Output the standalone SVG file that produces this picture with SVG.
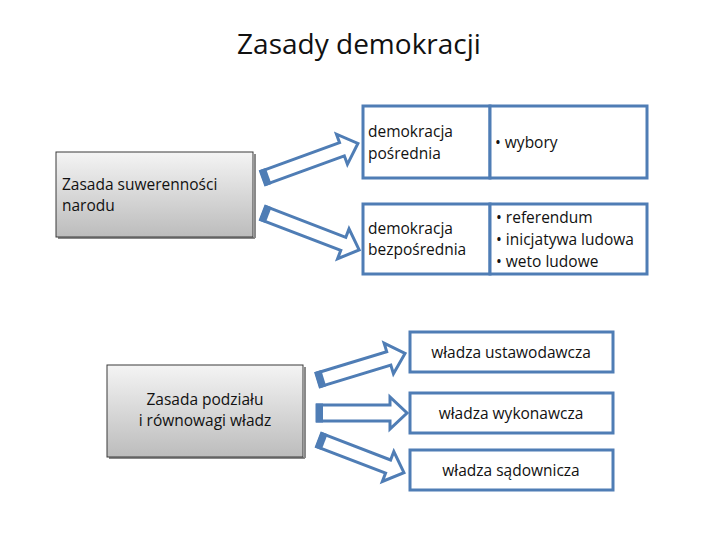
<svg xmlns="http://www.w3.org/2000/svg" width="720" height="540" viewBox="0 0 720 540">
<defs>
<linearGradient id="g" x1="0" y1="0" x2="0" y2="1">
<stop offset="0" stop-color="#f4f4f4"/>
<stop offset="1" stop-color="#bcbcbc"/>
</linearGradient>
</defs>
<style>
text{font-family:"Open Sans","Liberation Sans",sans-serif;fill:#111;}
.t{font-size:15.5px;}
.box{fill:#fff;stroke:#4f7db5;stroke-width:3;}
.gbox{fill:url(#g);stroke:#3a3a3a;stroke-width:1;}
.sh{fill:none;stroke:#8a8a8a;stroke-width:2;}
.ar{fill:#fff;stroke:#4f7db5;stroke-width:3;stroke-linejoin:miter;}
.tail{fill:#4f7db5;}
</style>
<rect width="720" height="540" fill="#fff"/>
<text x="359" y="54" text-anchor="middle" style="font-size:28px">Zasady demokracji</text>

<g id="connectors">
<g transform="translate(263,178) rotate(-20)">
<path class="ar" d="M0,-7 L84,-7 L84,-16 L101,0 L84,16 L84,7 L0,7 Z"/>
<rect class="tail" x="-1" y="-8.5" width="7" height="17"/>
</g>
<g transform="translate(263,213) rotate(21)">
<path class="ar" d="M0,-7 L86,-7 L86,-16 L103,0 L86,16 L86,7 L0,7 Z"/>
<rect class="tail" x="-1" y="-8.5" width="7" height="17"/>
</g>
<g transform="translate(318,380) rotate(-17)">
<path class="ar" d="M0,-7 L74,-7 L74,-16 L91,0 L74,16 L74,7 L0,7 Z"/>
<rect class="tail" x="-1" y="-8.5" width="7" height="17"/>
</g>
<g transform="translate(317,413)">
<path class="ar" d="M0,-8 L73,-8 L73,-16 L90,0 L73,16 L73,8 L0,8 Z"/>
<rect class="tail" x="-1" y="-9.5" width="7" height="19"/>
</g>
<g transform="translate(319,440) rotate(21)">
<path class="ar" d="M0,-7 L74,-7 L74,-16 L91,0 L74,16 L74,7 L0,7 Z"/>
<rect class="tail" x="-1" y="-8.5" width="7" height="17"/>
</g>
</g>

<g id="n-suw">
<line class="sh" x1="58" y1="238" x2="255" y2="238"/>
<line class="sh" x1="255" y1="154" x2="255" y2="238"/>
<rect class="gbox" x="56" y="152" width="197" height="85"/>
<text class="t" x="62" y="190">Zasada suwerenności</text>
<text class="t" x="62" y="211">narodu</text>
</g>

<g id="n-posr">
<rect class="box" x="363" y="106" width="127" height="72"/>
<text class="t" x="368" y="137">demokracja</text>
<text class="t" x="368" y="159">pośrednia</text>
</g>
<g id="n-wyb">
<rect class="box" x="490" y="106" width="157" height="72"/>
<text class="t" x="495" y="148">• wybory</text>
</g>
<g id="n-bezp">
<rect class="box" x="363" y="204" width="127" height="70"/>
<text class="t" x="368" y="234">demokracja</text>
<text class="t" x="368" y="255">bezpośrednia</text>
</g>
<g id="n-ref">
<rect class="box" x="490" y="204" width="157" height="70"/>
<text class="t" x="496" y="223">• referendum</text>
<text class="t" x="496" y="245">• inicjatywa ludowa</text>
<text class="t" x="496" y="267">• weto ludowe</text>
</g>

<g id="n-podz">
<line class="sh" x1="109" y1="458" x2="305" y2="458"/>
<line class="sh" x1="305" y1="367" x2="305" y2="458"/>
<rect class="gbox" x="107" y="365" width="196" height="92"/>
<text class="t" x="205" y="405" text-anchor="middle">Zasada podziału</text>
<text class="t" x="205" y="426" text-anchor="middle">i równowagi władz</text>
</g>

<g id="n-ust">
<rect class="box" x="410" y="332" width="203" height="40"/>
<text class="t" x="511" y="358" text-anchor="middle">władza ustawodawcza</text>
</g>
<g id="n-wyk">
<rect class="box" x="410" y="393" width="203" height="40"/>
<text class="t" x="511" y="419" text-anchor="middle">władza wykonawcza</text>
</g>
<g id="n-sad">
<rect class="box" x="410" y="450" width="203" height="40"/>
<text class="t" x="511" y="476" text-anchor="middle">władza sądownicza</text>
</g>
</svg>
